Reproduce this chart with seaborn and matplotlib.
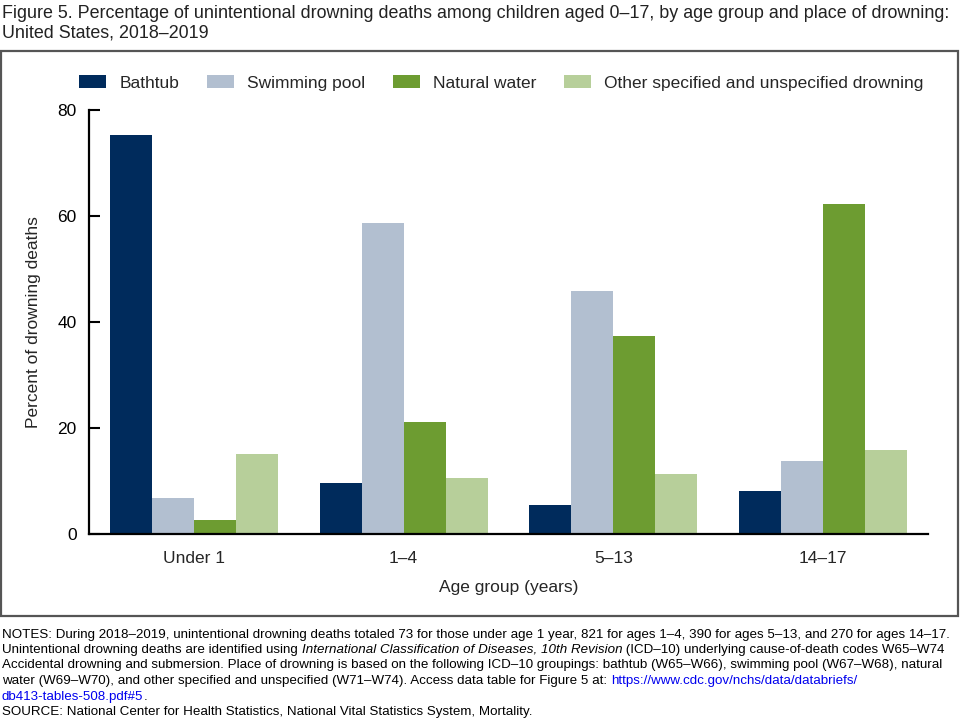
import numpy as np
import matplotlib
matplotlib.use("Agg")
import matplotlib.pyplot as plt
import seaborn as sns
import pandas as pd
from matplotlib.patches import Rectangle

# Data
age_groups = ["Under 1", "1\u20134", "5\u201313", "14\u201317"]
places = ["Bathtub", "Swimming pool", "Natural water",
          "Other specified and unspecified drowning"]
bathtub = [75.3, 9.7, 5.4, 8.1]
swimming_pool = [6.8, 58.6, 45.9, 13.7]
natural_water = [2.7, 21.2, 37.4, 62.2]
other_drowning = [15.1, 10.5, 11.3, 15.9]
colors = ["#002b5c", "#b2bfd0", "#6d9c31", "#b7cf9a"]

title_lines = ["Figure 5. Percentage of unintentional drowning deaths among children aged 0\u201317, "
               "by age group and place of drowning:",
               "United States, 2018\u20132019"]

df = pd.DataFrame({
    "age": age_groups * 4,
    "place": np.repeat(places, 4),
    "pct": bathtub + swimming_pool + natural_water + other_drowning,
})

sns.set_style("white")
plt.rcParams["font.family"] = ["Liberation Sans", "DejaVu Sans"]

fig = plt.figure(figsize=(9.6, 7.2), dpi=100)
ax = fig.add_axes([89 / 960, 1 - 534 / 720, (928 - 89) / 960, (534 - 110) / 720])

sns.barplot(data=df, x="age", y="pct", hue="place", order=age_groups,
            hue_order=places, palette=colors, width=0.8, linewidth=0,
            saturation=1, ax=ax)

ax.set_ylim(0, 80)
ax.set_xlim(-0.5, 3.5)
ax.set_yticks([0, 20, 40, 60, 80])
ax.tick_params(axis="y", left=True, direction="in", length=8, width=1.5,
               labelsize=12.5, pad=9, colors="black")
ax.tick_params(axis="x", bottom=False, length=0, labelsize=12.5, pad=12)
for s in ["top", "right"]:
    ax.spines[s].set_visible(False)
for s in ["left", "bottom"]:
    ax.spines[s].set_color("black")
    ax.spines[s].set_linewidth(1.6)
ax.set_ylabel("Percent of drowning deaths", fontsize=12.5, labelpad=12)
ax.set_xlabel("Age group (years)", fontsize=12.5, labelpad=10)

# legend across the top
handles, labels = ax.get_legend_handles_labels()
ax.legend_.remove()
fig.legend(handles, labels, loc="center", bbox_to_anchor=(0.522, 1 - 83 / 720),
           ncol=4, frameon=False, fontsize=12.5, handlelength=1.55, handleheight=0.8,
           columnspacing=1.6, handletextpad=0.75)

# frame around the chart area
fig.add_artist(Rectangle((1 / 960, 1 - 616 / 720), 957 / 960, 565 / 720,
                         transform=fig.transFigure, fill=False,
                         edgecolor="#555555", linewidth=1.6))

for line, yy in zip(title_lines, [13, 33]):
    fig.text(2 / 960, 1 - yy / 720, line, ha="left", va="center",
             fontsize=12.9, color="#222222")

# notes, drawn piece by piece so styles can mix on one line
note_lines = [
    [("NOTES: During 2018\u20132019, unintentional drowning deaths totaled 73 for those under age 1 year, "
      "821 for ages 1\u20134, 390 for ages 5\u201313, and 270 for ages 14\u201317.", "normal", "black")],
    [("Unintentional drowning deaths are identified using ", "normal", "black"),
     ("International Classification of Diseases, 10th Revision", "italic", "black"),
     (" (ICD\u201310) underlying cause-of-death codes W65\u2013W74", "normal", "black")],
    [("Accidental drowning and submersion. Place of drowning is based on the following ICD\u201310 groupings: "
      "bathtub (W65\u2013W66), swimming pool (W67\u2013W68), natural", "normal", "black")],
    [("water (W69\u2013W70), and other specified and unspecified (W71\u2013W74). Access data table for Figure 5 at: ",
      "normal", "black"),
     ("https://www.cdc.gov/nchs/data/databriefs/", "normal", "#0000ee")],
    [("db413-tables-508.pdf#5", "normal", "#0000ee"), (".", "normal", "black")],
    [("SOURCE: National Center for Health Statistics, National Vital Statistics System, Mortality.",
      "normal", "black")],
]
note_y = [635, 650, 665, 681, 697, 712]

fig.canvas.draw()
renderer = fig.canvas.get_renderer()
for parts, yy in zip(note_lines, note_y):
    x = 2
    for txt, style, col in parts:
        t = fig.text(x / 960, 1 - yy / 720, txt, ha="left", va="center",
                     fontsize=9.6, style=style, color=col)
        bb = t.get_window_extent(renderer=renderer)
        x += bb.width

fig.savefig("out.png", dpi=100)
